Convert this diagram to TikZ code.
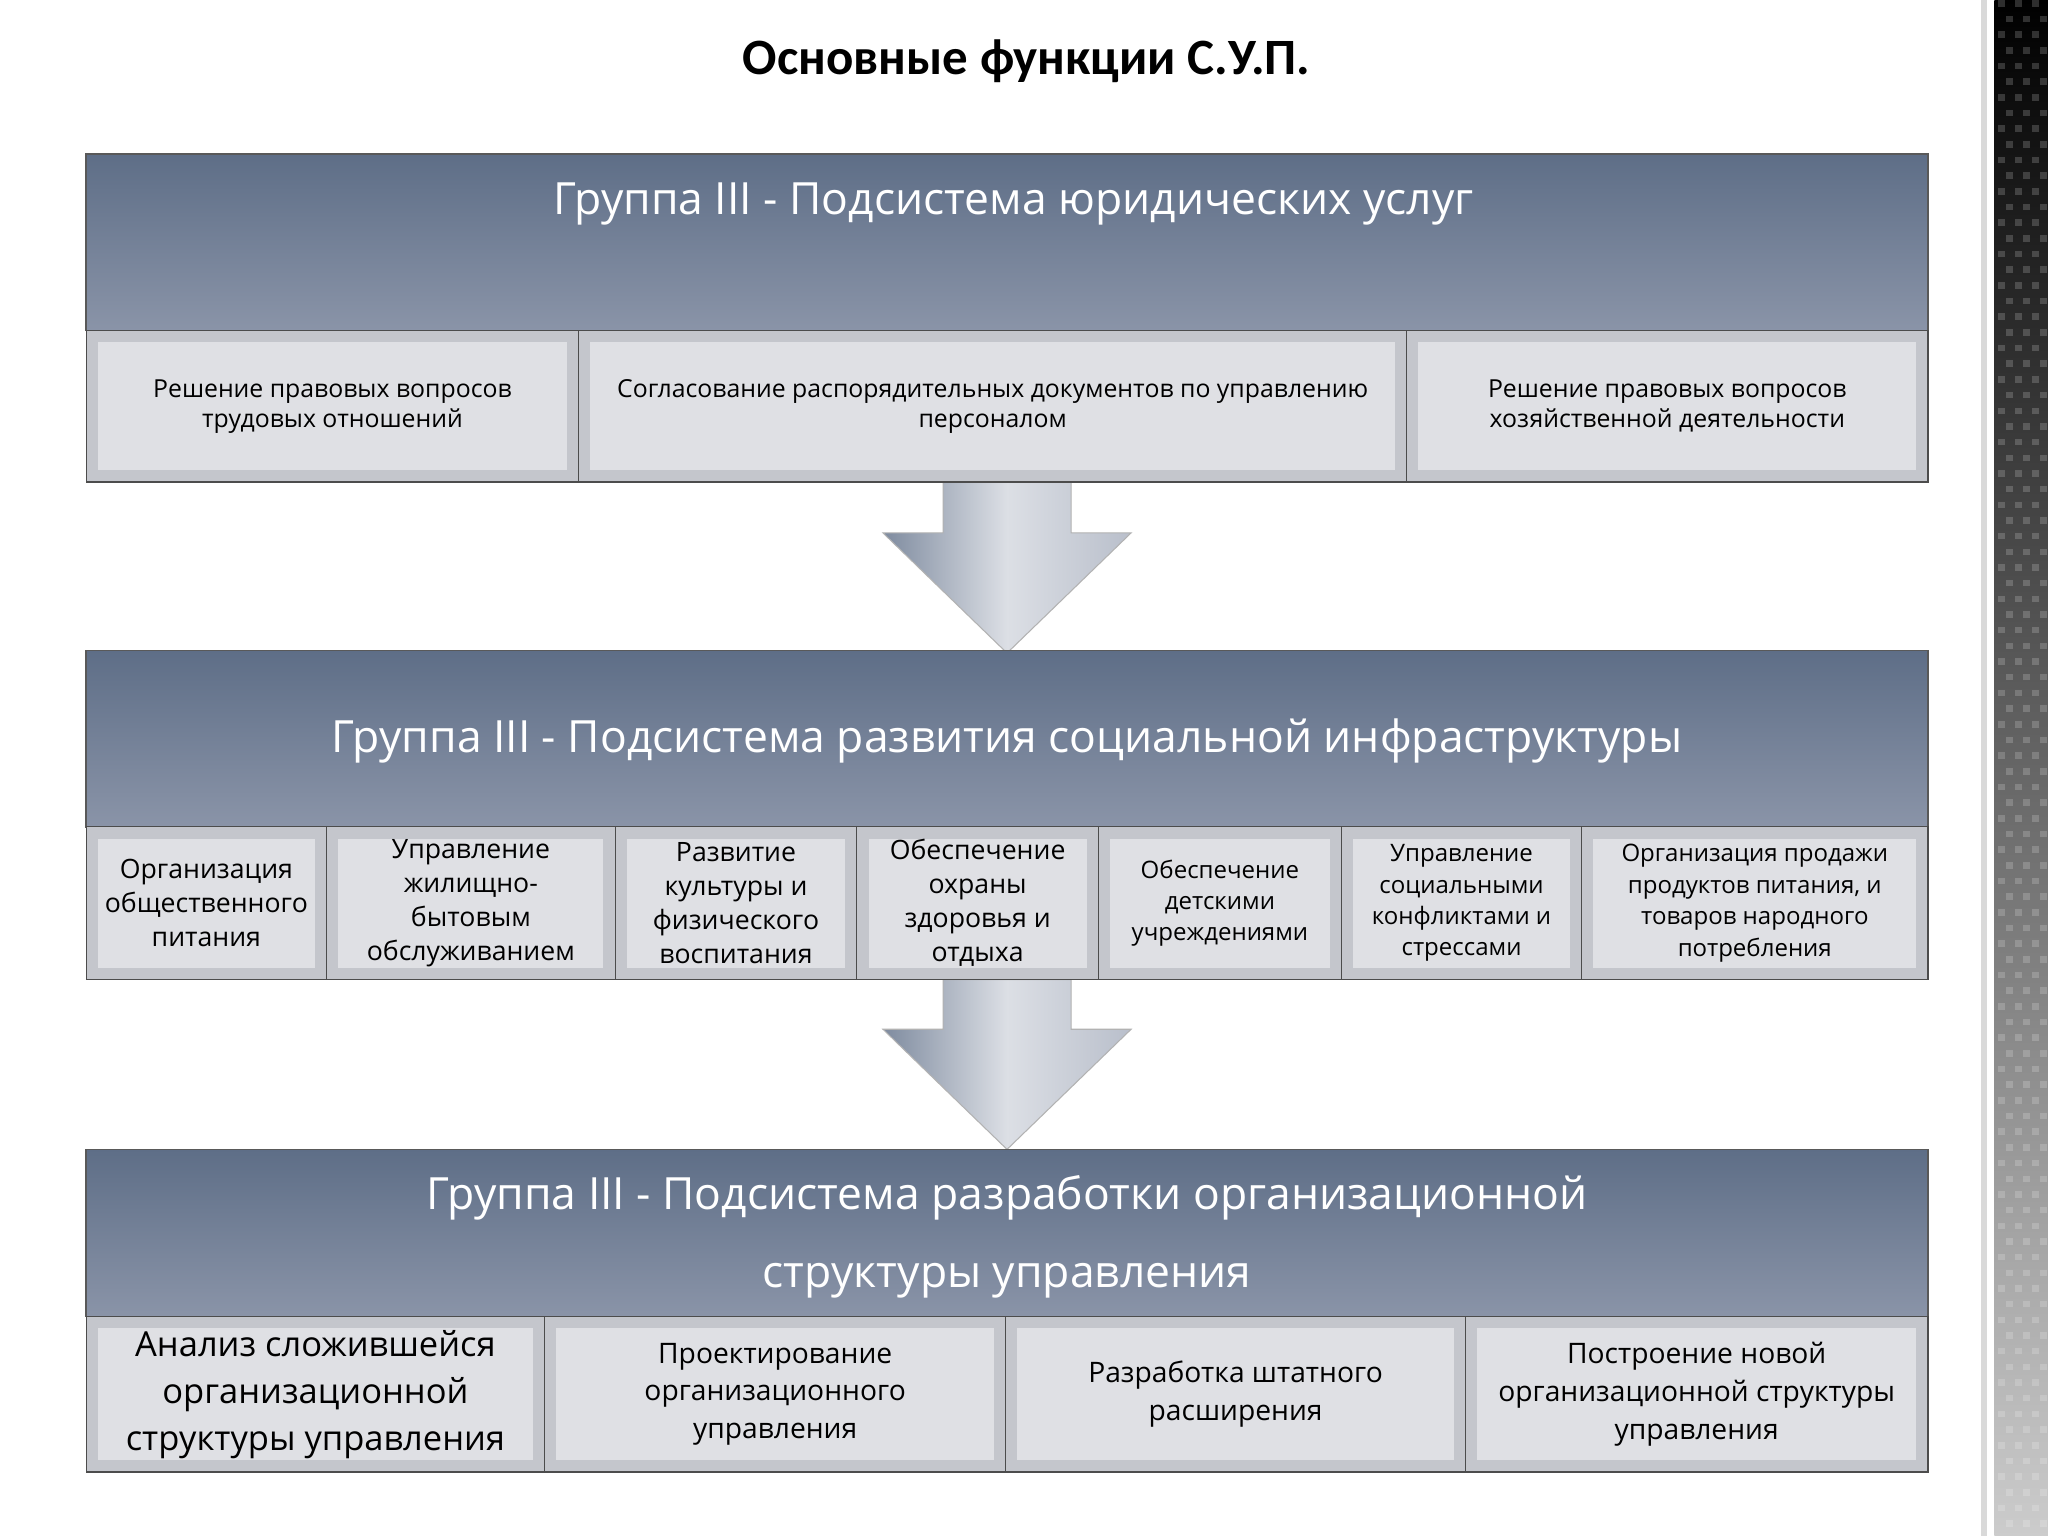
\documentclass[tikz,border=0pt]{standalone}
\usepackage{fontspec}
\setmainfont{Open Sans}
\newfontfamily\titlefont{Carlito}
\usetikzlibrary{shadows}
\definecolor{hdtop}{HTML}{5E6E87}
\definecolor{hdbot}{HTML}{8A94A8}
\definecolor{cout}{HTML}{C4C6CC}
\definecolor{cin}{HTML}{DFE0E4}
\tikzset{
 hdr/.style={top color=hdtop,bottom color=hdbot,draw=gray!70!black,line width=0.6pt},
 ctext/.style={align=center,font=\fontsize{9.5}{11.5}\selectfont,inner sep=0},
 htext/.style={text=white,align=center,font=\fontsize{17}{30}\selectfont},
 arr/.style={left color=hdtop!80,right color=hdbot!60,middle color=white!70!hdbot,draw=gray!60}
}
\newcommand\cellbox[7][]{%
 \draw[fill=cout,draw=gray!60!black,line width=0.5pt] (#3,#4) rectangle (#5,#6);
 \fill[cin] (#3+9,#4+9) rectangle (#5-9,#6-9);
 \node[ctext,#1] (#2) at ({(#3+#5)/2},{(#4+#6)/2}) {#7};}
\begin{document}
\begin{tikzpicture}[x=0.5pt,y=-0.5pt]
\useasboundingbox (0,0) rectangle (1568,1176);
\fill[white] (0,0) rectangle (1568,1176);
% right decorative strip
\shade[top color=black,bottom color=gray!40] (1527,0) rectangle (1568,1176);
\foreach \i in {0,...,97}{\foreach \j in {0,1,2}{\fill[white,opacity=0.18] ({1530+\j*13+mod(\i,2)*6},{\i*12}) rectangle ++(5,5);}}
\fill[gray!30] (1517,0) rectangle (1521,1176);
% title
\node[font=\titlefont\bfseries\fontsize{19.5}{22}\selectfont] (title) at (786,47) {Основные функции С.У.П.};
% arrows
\draw[arr] (722,369) -- (722,408) -- (676,408) -- (771,500) -- (866,408) -- (820,408) -- (820,369) -- cycle;
\draw[arr] (722,750) -- (722,788) -- (676,788) -- (771,880) -- (866,788) -- (820,788) -- (820,750) -- cycle;
% header 1
\draw[hdr] (66,118) rectangle (1476,253);
\node[htext] (h1) at (776,156) {Группа III - Подсистема юридических услуг};
\cellbox{c11}{66}{253}{443}{369}{Решение правовых вопросов\\трудовых отношений}
\cellbox{c12}{443}{253}{1077}{369}{Согласование распорядительных документов по управлению\\персоналом}
\cellbox{c13}{1077}{253}{1476}{369}{Решение правовых вопросов\\хозяйственной деятельности}
% header 2
\draw[hdr] (66,498) rectangle (1476,633);
\node[htext] (h2) at (771,567) {Группа III - Подсистема развития социальной инфраструктуры};
\tikzset{ctext/.append style={font=\fontsize{10.2}{13}\selectfont}}
\cellbox{c21}{66}{633}{250}{750}{Организация\\общественного\\питания}
\cellbox{c22}{250}{633}{471}{750}{Управление\\жилищно-\\бытовым\\обслуживанием}
\cellbox{c23}{471}{633}{656}{750}{Развитие\\культуры и\\физического\\воспитания}
\cellbox{c24}{656}{633}{841}{750}{Обеспечение\\охраны\\здоровья и\\отдыха}
\cellbox[font=\fontsize{9.2}{12}\selectfont]{c25}{841}{633}{1027}{750}{Обеспечение\\детскими\\учреждениями}
\cellbox[font=\fontsize{9.2}{12}\selectfont]{c26}{1027}{633}{1211}{750}{Управление\\социальными\\конфликтами и\\стрессами}
\cellbox[font=\fontsize{9.2}{12}\selectfont]{c27}{1211}{633}{1476}{750}{Организация продажи\\продуктов питания, и\\товаров народного\\потребления}
% header 3
\draw[hdr] (66,880) rectangle (1476,1008);
\node[htext] (h3) at (771,947) {Группа III - Подсистема разработки организационной\\структуры управления};
\cellbox[font=\fontsize{13.2}{18}\selectfont]{c31}{66}{1008}{417}{1127}{Анализ сложившейся\\организационной\\структуры управления}
\cellbox[font=\fontsize{10.8}{14.5}\selectfont]{c32}{417}{1008}{770}{1127}{Проектирование\\организационного\\управления}
\cellbox[font=\fontsize{10.8}{14.5}\selectfont]{c33}{770}{1008}{1122}{1127}{Разработка штатного\\расширения}
\cellbox[font=\fontsize{10.8}{14.5}\selectfont]{c34}{1122}{1008}{1476}{1127}{Построение новой\\организационной структуры\\управления}
\end{tikzpicture}
\end{document}
